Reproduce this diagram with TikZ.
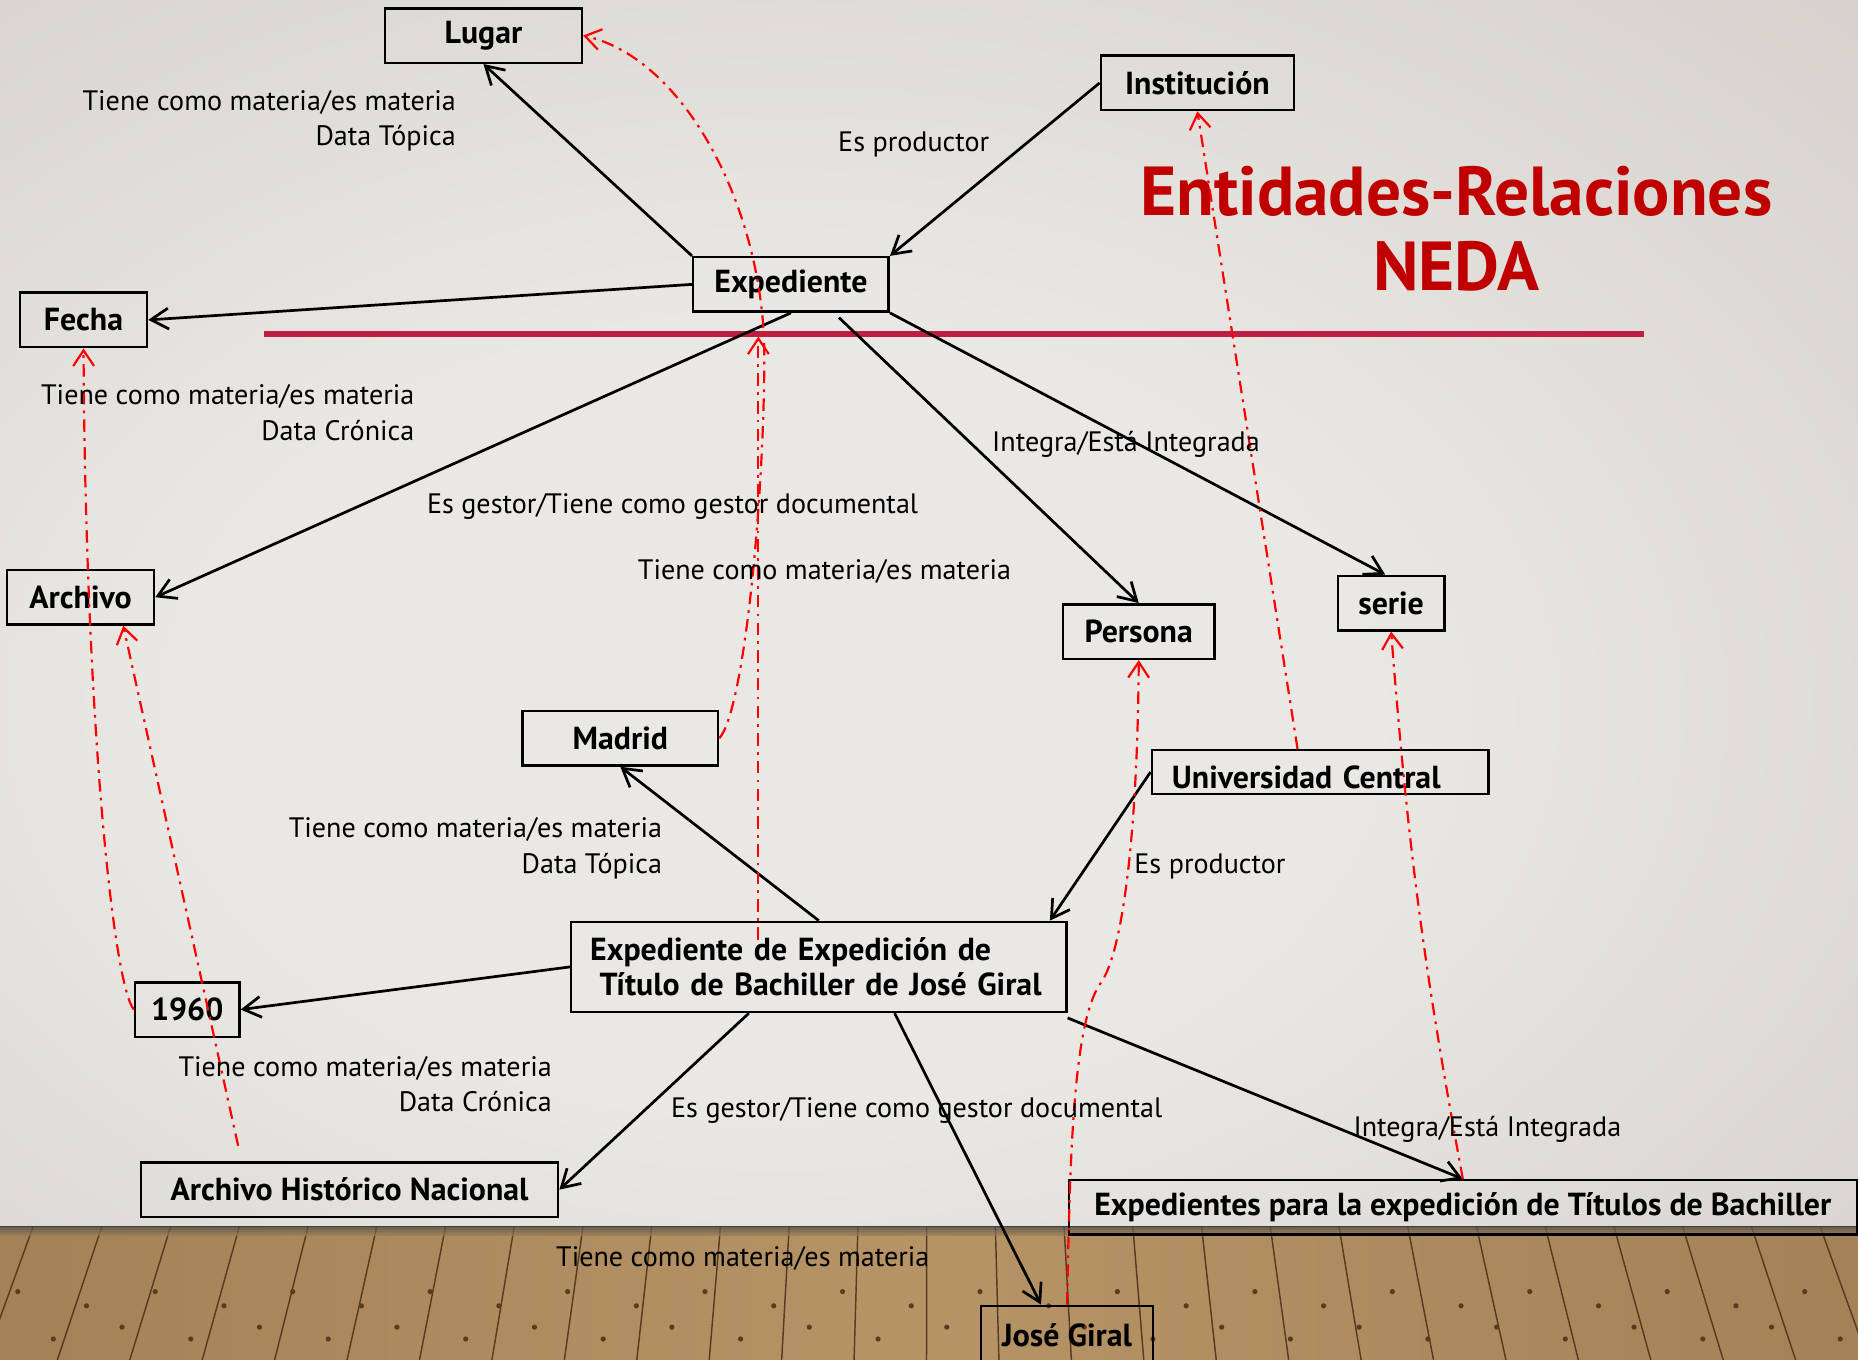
\documentclass[tikz,border=0pt]{standalone}
\usepackage{fontspec}
\setmainfont{PT Sans}
\usetikzlibrary{arrows.meta,calc}
\definecolor{walllight}{RGB}{234,232,228}
\definecolor{walldark}{RGB}{200,196,190}
\definecolor{floorbase}{RGB}{164,130,86}
\definecolor{floorlight}{RGB}{182,148,102}
\definecolor{floorline}{RGB}{86,60,36}
\definecolor{titlered}{RGB}{192,0,0}
\definecolor{rulered}{RGB}{190,30,68}
\definecolor{linkred}{RGB}{255,0,0}
\newcommand{\lblsize}{\fontsize{13.5pt}{17.1pt}\selectfont}
\newcommand{\boxsize}{\fontsize{15.3pt}{17.1pt}\selectfont\bfseries}
\newcommand{\titlesize}{\fontsize{33.3pt}{35.9pt}\selectfont\bfseries}
\pgfdeclareradialshading{wallshade}{\pgfpoint{-5bp}{-5bp}}{color(0bp)=(walllight); color(16bp)=(walllight); color(55bp)=(walldark); color(100bp)=(walldark)}
\begin{document}
\begin{tikzpicture}[x=0.02cm,y=-0.02cm,
  ebox/.style={draw=black, line width=1.2pt, font=\boxsize, inner sep=0pt, minimum height=0.92cm},
  lbl/.style={font=\lblsize, inner sep=0pt, text=black},
  relarrow/.style={draw=black, line width=1.3pt, -{Straight Barb[length=8.5pt,width=10pt]}},
  instof/.style={draw=linkred, line width=1.05pt, dash pattern=on 6pt off 3pt on 1.3pt off 3pt, -{Straight Barb[length=7.5pt,width=10pt]}}
]
\useasboundingbox (0,0) rectangle (1568,1147.7);
% wall
\shade[shading=wallshade] (0,0) rectangle (1568,1035);
% floor
\shade[left color=floorbase, right color=floorbase, middle color=floorlight] (0,1035) rectangle (1568,1150);
\foreach \xt in {-30,28,...,1600} {
  \draw[floorline, line width=0.7pt] (\xt,1035) -- ({784+(\xt-784)*1.055},1150);
}
\foreach \i in {0,...,27} {
  \fill[floorline] ({\i*58+15},{1090+mod(\i,2)*12}) circle (2.2);
  \fill[floorline] ({\i*58+45},{1120+mod(\i+1,2)*10}) circle (2.2);
}
\shade[top color=black!70, bottom color=floorbase, opacity=0.7] (0,1035) rectangle (1568,1043);
\draw[black!75, line width=0.8pt] (0,1035) -- (1568,1035);
% rule and title
\draw[rulered, line width=2.85pt] (223,282) -- (1387,282);
\node[font=\titlesize, text=titlered, align=center, inner sep=0pt] (title) at (1229,193) {Entidades-Relaciones\\NEDA};
% boxes
\node[ebox, minimum width=3.32cm] (lugar) at (408,30) {Lugar};
\node[ebox, minimum width=3.26cm] (institucion) at (1010.5,70) {Institución};
\node[ebox, minimum width=3.30cm] (expediente) at (667.5,240) {Expediente};
\node[ebox, minimum width=2.14cm] (fecha) at (70.5,270) {Fecha};
\node[ebox, minimum width=2.48cm] (archivo) at (68,504) {Archivo};
\node[ebox, minimum width=1.80cm] (serie) at (1174,509) {serie};
\node[ebox, minimum width=2.56cm] (persona) at (961,533) {Persona};
\node[ebox, minimum width=3.30cm] (madrid) at (523.5,623) {Madrid};
\node[ebox, minimum width=5.68cm, minimum height=0.74cm, text width=5.0cm, text height=0.55cm, text depth=0cm, align=left] (univ) at (1114,651.5) {Universidad Central};
\node[ebox, minimum width=8.36cm, minimum height=1.52cm, text width=7.72cm, align=left] (expexp) at (691,816) {Expediente de Expedición de\\\hspace*{0.16cm}Título de Bachiller de José Giral};
\node[ebox, minimum width=1.76cm] (n1960) at (158,852) {1960};
\node[ebox, minimum width=7.04cm] (ahn) at (295,1004) {Archivo Histórico Nacional};
\node[ebox, minimum width=13.30cm] (expbach) at (1234.5,1019) {Expedientes para la expedición de Títulos de Bachiller};
\node[ebox, minimum width=2.90cm, minimum height=1.0cm] (jose) at (900.5,1127) {José Giral};
% relations
\draw[relarrow] (expediente.north west) -- (lugar.south);
\draw[relarrow] (institucion.west) -- (expediente.north east);
\draw[relarrow] (expediente.west) -- (fecha.east);
\draw[relarrow] (expediente.south) -- (archivo.east);
\draw[relarrow] ($(expediente.south)+(40.5,4)$) -- (persona.north);
\draw[relarrow] (expediente.south east) -- ($(serie.north)+(-5,0)$);
\draw[relarrow] (expexp.north) -- (madrid.south);
\draw[relarrow] (univ.west) -- ($(expexp.north east)+(-15,0)$);
\draw[relarrow] (expexp.west) -- (n1960.east);
\draw[relarrow] ($(expexp.south)+(-59,0)$) -- (ahn.east);
\draw[relarrow] ($(expexp.south)+(64,0)$) -- ($(jose.north)+(-22,0)$);
\draw[relarrow] ($(expexp.south east)+(0,4)$) -- (expbach.north);
% instance links
\draw[instof] (madrid.east) .. controls (628,600) and (645,420) .. (645,300) .. controls (645,180) and (580,50) .. (lugar.east);
\draw[instof] ($(expexp.north)+(-51,16)$) -- ($(expediente.south)+(-27.5,20)$);
\draw[instof] (n1960.west) .. controls (95,830) and (72,600) .. (fecha.south);
\draw[instof] ($(ahn.north west)+(83,-13)$) -- ($(archivo.south east)+(-27,0)$);
\draw[instof] (jose.north) .. controls (903,980) and (905,860) .. (930,828) .. controls (948,800) and (960,700) .. (persona.south);
\draw[instof] ($(univ.north)+(-19,0)$) -- (institucion.south);
\draw[instof] (expbach.north) to[bend left=3] (serie.south);
% labels
\node[lbl, anchor=east, align=right] (l1) at (385,102) {Tiene como materia/es materia\\Data Tópica};
\node[lbl, anchor=base west] (l2) at (707,128) {Es productor};
\node[lbl, anchor=east, align=right] (l3) at (350,348.5) {Tiene como materia/es materia\\Data Crónica};
\node[lbl, anchor=base west] (l4) at (837,381) {Integra/Está Integrada};
\node[lbl, anchor=base west] (l5) at (360,433) {Es gestor/Tiene como gestor documental};
\node[lbl, anchor=base west] (l6) at (538,489) {Tiene como materia/es materia};
\node[lbl, anchor=east, align=right] (l7) at (559,716) {Tiene como materia/es materia\\Data Tópica};
\node[lbl, anchor=base west] (l8) at (957,737) {Es productor};
\node[lbl, anchor=east, align=right] (l9) at (466,915) {Tiene como materia/es materia\\Data Crónica};
\node[lbl, anchor=base west] (l10) at (566,943) {Es gestor/Tiene como gestor documental};
\node[lbl, anchor=base west] (l11) at (1142,959) {Integra/Está Integrada};
\node[lbl, anchor=base west] (l12) at (469,1069) {Tiene como materia/es materia};
\end{tikzpicture}
\end{document}
